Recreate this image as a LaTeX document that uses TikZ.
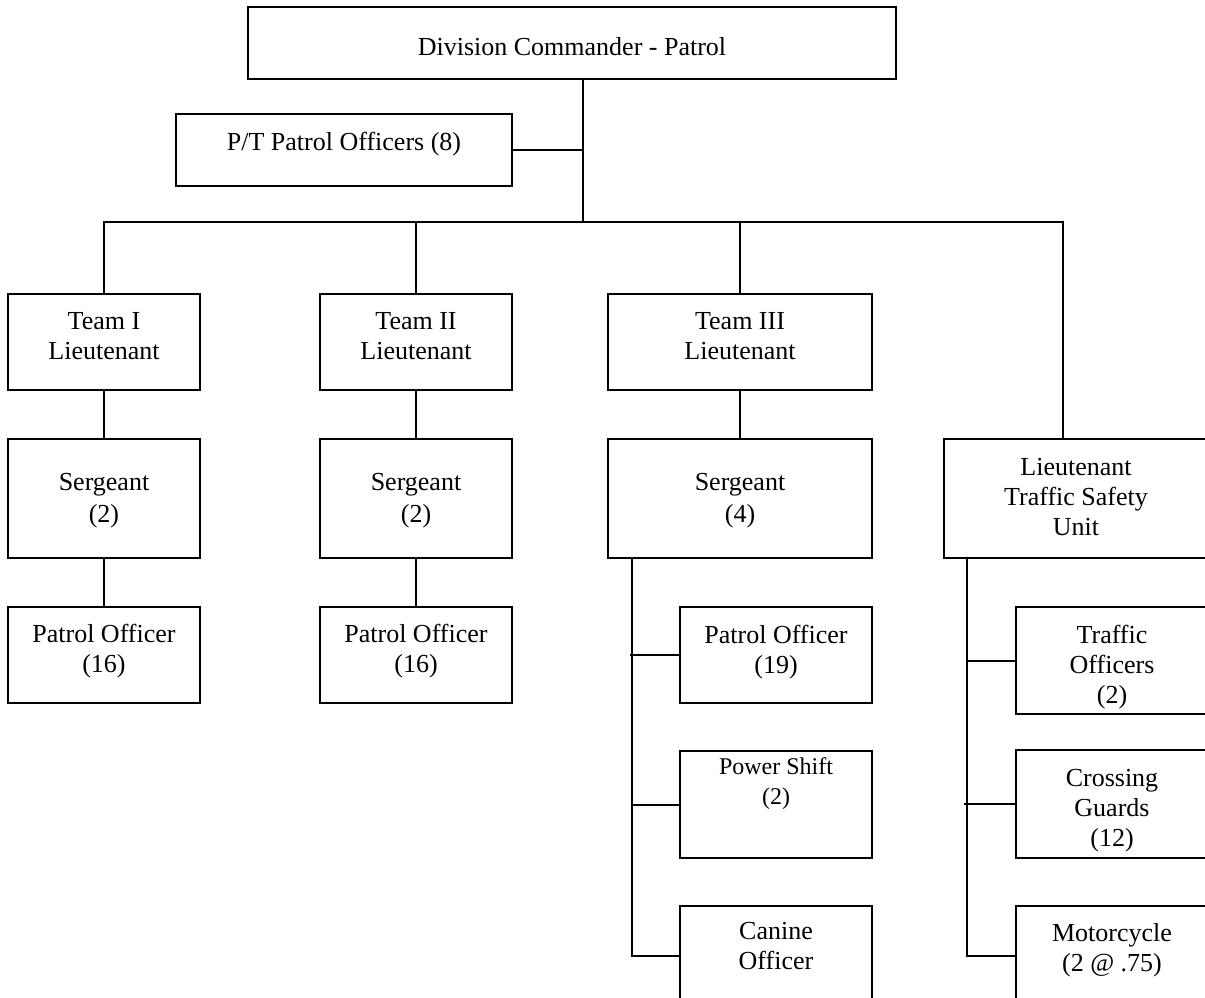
\documentclass[tikz,border=0pt]{standalone}
\usepackage{fontspec}
\setmainfont{Liberation Serif}
\usetikzlibrary{positioning}

\begin{document}
\begin{tikzpicture}[x=1pt, y=-1pt,
        unit/.style={draw, line width=2pt, inner sep=0pt, anchor=north west, align=flush center,
            font=\fontsize{26}{30}\selectfont},
        link/.style={line width=2pt}]
        \useasboundingbox (0,0) rectangle (1205,997);
        \clip (0,0) rectangle (1205,997);

        % Command level
        \node[unit, text width=648pt, text height=48pt, text depth=24pt] (div) at (247,6) {Division Commander - Patrol};
        \node[unit, text width=336pt, text height=36pt, text depth=36pt] (pt) at (175,113) {P/T Patrol Officers (8)};

        % Teams
        \node[unit, text width=192pt, text height=35pt, text depth=61pt] (team1) at (7,293) {Team I\\Lieutenant};
        \node[unit, text width=192pt, text height=35pt, text depth=61pt] (team2) at (319,293) {Team II\\Lieutenant};
        \node[unit, text width=264pt, text height=35pt, text depth=61pt] (team3) at (607,293) {Team III\\Lieutenant};

        % Sergeants and traffic unit
        \node[unit, text width=192pt, text height=51pt, text depth=68pt] (sgt1) at (7,438) {Sergeant\\[2pt](2)};
        \node[unit, text width=192pt, text height=51pt, text depth=68pt] (sgt2) at (319,438) {Sergeant\\[2pt](2)};
        \node[unit, text width=264pt, text height=51pt, text depth=68pt] (sgt3) at (607,438) {Sergeant\\[2pt](4)};
        \node[unit, text width=264pt, text height=36pt, text depth=83pt] (ltsu) at (943,438) {Lieutenant\\Traffic Safety\\Unit};

        % Officers
        \node[unit, text width=192pt, text height=35pt, text depth=61pt] (po1) at (7,606) {Patrol Officer\\(16)};
        \node[unit, text width=192pt, text height=35pt, text depth=61pt] (po2) at (319,606) {Patrol Officer\\(16)};
        \node[unit, text width=192pt, text height=36pt, text depth=60pt] (po3) at (679,606) {Patrol Officer\\(19)};
        \node[unit, text width=192pt, text height=23pt, text depth=84pt, font=\fontsize{24}{30}\selectfont] (ps) at (679,750) {Power Shift\\(2)};
        \node[unit, text width=192pt, text height=33pt, text depth=67pt] (canine) at (679,905) {Canine\\Officer};
        \node[unit, text width=192pt, text height=36pt, text depth=71pt] (tro) at (1015,606) {Traffic\\Officers\\(2)};
        \node[unit, text width=192pt, text height=36pt, text depth=72pt] (crg) at (1015,749) {Crossing\\Guards\\(12)};
        \node[unit, text width=192pt, text height=35pt, text depth=65pt] (moto) at (1015,905) {Motorcycle\\(2 @ .75)};

        % Connectors
        \coordinate (hub) at (583,222);
        \coordinate (ltsudrop) at (1063,222);
        \draw[link] (div.south -| hub) -- (hub);
        \draw[link] (pt.east) -- (pt.east -| hub);
        \draw[link] (team1.north) |- (ltsudrop) -- (ltsudrop |- ltsu.north);
        \draw[link] (team2.north) -- (team2.north |- hub);
        \draw[link] (team3.north) -- (team3.north |- hub);

        \draw[link] (team1.south) -- (sgt1.north);
        \draw[link] (team2.south) -- (sgt2.north);
        \draw[link] (team3.south) -- (sgt3.north);
        \draw[link] (sgt1.south) -- (po1.north);
        \draw[link] (sgt2.south) -- (po2.north);

        \coordinate (spine3) at ([xshift=25pt]sgt3.south west);
        \draw[link] (spine3) |- (canine.west);
        \draw[link] ([xshift=-2pt]spine3 |- po3.west) -- (po3.west);
        \draw[link] (spine3 |- ps.west) -- (ps.west);

        \coordinate (spine4) at ([xshift=24pt]ltsu.south west);
        \draw[link] (spine4) |- (moto.west);
        \draw[link] (spine4 |- tro.west) -- (tro.west);
        \draw[link] ([xshift=-3pt]spine4 |- crg.west) -- (crg.west);
    \end{tikzpicture}
\end{document}
